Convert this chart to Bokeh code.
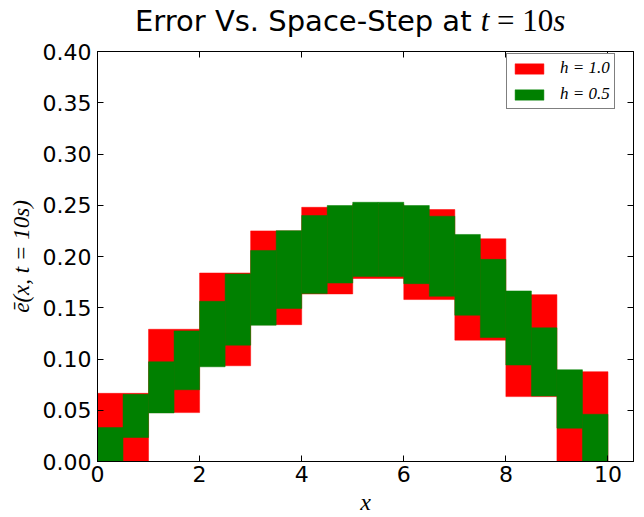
from bokeh.plotting import figure
from bokeh.layouts import column
from bokeh.models import (Range1d, LinearAxis, FixedTicker, NumeralTickFormatter,
                          Legend, LegendItem, Div)
from bokeh.embed import file_html
from bokeh.resources import INLINE

# Cell-averaged error band at t = 10 s, coarse grid (h = 1.0)
coarse_h = 1.0
coarse_left = [0, 1, 2, 3, 4, 5, 6, 7, 8, 9]
coarse_low = [0.000, 0.0477, 0.0934, 0.1335, 0.1635, 0.1785, 0.1580, 0.1184, 0.0633, 0.000]
coarse_high = [0.0665, 0.1290, 0.1839, 0.2250, 0.2480, 0.2510, 0.2458, 0.2173, 0.1628, 0.0876]

# Same quantity on the refined grid (h = 0.5)
fine_h = 0.5
fine_left = [0.0, 0.5, 1.0, 1.5, 2.0, 2.5, 3.0, 3.5, 4.0, 4.5,
             5.0, 5.5, 6.0, 6.5, 7.0, 7.5, 8.0, 8.5, 9.0, 9.5]
fine_low = [0.000, 0.0234, 0.0474, 0.0700, 0.0924, 0.1135, 0.1330, 0.1492, 0.1638, 0.1741,
            0.1806, 0.1806, 0.1735, 0.1612, 0.1427, 0.1210, 0.0941, 0.0639, 0.0325, 0.000]
fine_high = [0.0331, 0.0655, 0.0973, 0.1274, 0.1563, 0.1830, 0.2059, 0.2252, 0.2400, 0.2497,
             0.2529, 0.2529, 0.2497, 0.2393, 0.2215, 0.1972, 0.1664, 0.1304, 0.0895, 0.0461]

x_ticks = [0, 2, 4, 6, 8, 10]
y_ticks = [0.00, 0.05, 0.10, 0.15, 0.20, 0.25, 0.30, 0.35, 0.40]

MATH = "font-family:'Liberation Serif';font-size:31px"

# Heading: plain words in sans, the time stamp typeset like math
heading = Div(
    text=("<div style=\"margin-left:135px;padding-top:5px;white-space:nowrap;"
          "font-family:'DejaVu Sans';font-size:29px;line-height:1;color:black\">"
          "Error Vs. Space-Step at "
          f"<span style=\"{MATH};font-style:italic\">t</span>"
          f"<span style=\"{MATH}\"> = 10</span>"
          f"<span style=\"{MATH};font-style:italic\">s</span></div>"),
    width=644, height=41, margin=0)

p = figure(width=644, height=476, output_backend="svg", toolbar_location=None,
           x_range=Range1d(0, 10.5), y_range=Range1d(0, 0.40),
           min_border_left=97, min_border_right=11, min_border_top=10, min_border_bottom=55,
           x_axis_location=None, y_axis_location=None, margin=0)
p.grid.visible = False
p.background_fill_color = "white"
p.border_fill_color = "white"
p.outline_line_color = "black"
p.outline_line_width = 1

coarse = p.quad(left=coarse_left, right=[x + coarse_h for x in coarse_left],
                bottom=coarse_low, top=coarse_high,
                fill_color="#ff0000", line_color="#ff0000", line_width=0.5)
fine = p.quad(left=fine_left, right=[x + fine_h for x in fine_left],
              bottom=fine_low, top=fine_high,
              fill_color="#008000", line_color="#008000", line_width=0.5)


def make_axis(ticks, labelled):
    ax = LinearAxis(ticker=FixedTicker(ticks=ticks))
    ax.axis_line_color = "black"
    ax.major_tick_line_color = "black"
    ax.major_tick_in = 6
    ax.major_tick_out = 0
    ax.minor_tick_line_color = None
    if labelled:
        ax.major_label_text_font = "DejaVu Sans"
        ax.major_label_text_font_size = "22px"
        ax.major_label_text_color = "black"
    else:
        ax.major_label_overrides = {t: "" for t in ticks}
        ax.major_label_standoff = 0
    return ax


xb = make_axis(x_ticks, True)
xb.major_label_standoff = 4
xb.axis_label = "x"
xb.axis_label_text_font = "Liberation Serif"
xb.axis_label_text_font_style = "italic"
xb.axis_label_text_font_size = "24px"
xb.axis_label_text_color = "black"
xb.axis_label_standoff = 4

yl = make_axis(y_ticks, True)
yl.formatter = NumeralTickFormatter(format="0.00")
yl.major_label_standoff = 6
yl.axis_label = "\u0113(x, t = 10s)"
yl.axis_label_text_font = "Liberation Serif"
yl.axis_label_text_font_style = "italic"
yl.axis_label_text_font_size = "23px"
yl.axis_label_text_color = "black"
yl.axis_label_standoff = 6

p.add_layout(xb, "below")
p.add_layout(yl, "left")
p.add_layout(make_axis(x_ticks, False), "above")
p.add_layout(make_axis(y_ticks, False), "right")

legend = Legend(items=[LegendItem(label="h = 1.0", renderers=[coarse]),
                       LegendItem(label="h = 0.5", renderers=[fine])],
                location=(409, 352), margin=0, padding=4, spacing=6,
                glyph_width=36, glyph_height=13, label_height=19, label_standoff=13,
                label_text_font="Liberation Serif", label_text_font_style="italic",
                label_text_font_size="17px", label_text_color="black",
                border_line_color="black", border_line_width=1,
                background_fill_color="white", background_fill_alpha=1.0)
p.add_layout(legend)

page = column(heading, p, spacing=0, margin=0)
open("out.html", "w").write(file_html(page, INLINE))
